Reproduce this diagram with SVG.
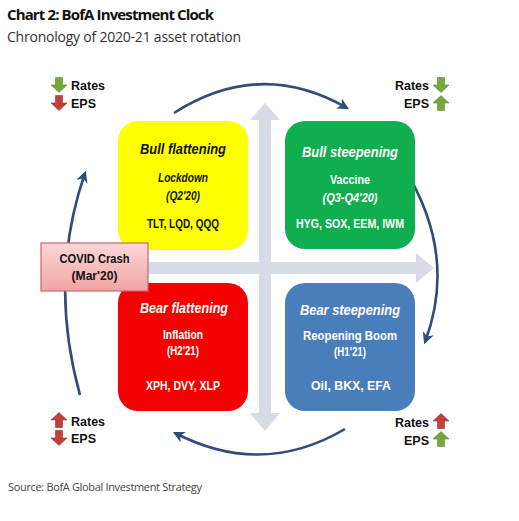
<svg xmlns="http://www.w3.org/2000/svg" width="519" height="521" viewBox="0 0 519 521">
<defs>
<style>
text{font-family:"Liberation Sans",Arial,sans-serif;}
.ttl{font-family:"Open Sans","Liberation Sans",sans-serif;}
.h{font-size:15px;font-weight:bold;font-style:italic;text-anchor:middle;}
.s{font-size:12px;font-weight:bold;text-anchor:middle;}
.t{font-size:13px;font-weight:bold;text-anchor:middle;}
.w{fill:#ffffff;}
.k{fill:#111111;}
.lbl{font-size:12.5px;font-weight:bold;fill:#111;}
.arc{fill:none;stroke:#2e4d7b;stroke-width:2.6;}
.axis{fill:#d6dbe6;}
.gr{fill:#72a83c;stroke:#5a8c2c;stroke-width:0.6;}
.rd{fill:#c0403e;stroke:#a02f2e;stroke-width:0.6;}
</style>
<marker id="ah" viewBox="0 0 10 10" refX="8" refY="5" markerWidth="4.5" markerHeight="4.5" orient="auto">
<path d="M0,0 L10,5 L0,10 L3,5 Z" fill="#2e4d7b"/>
</marker>
<linearGradient id="pink" x1="0" y1="0" x2="0" y2="1">
<stop offset="0" stop-color="#fbd7d7"/>
<stop offset="1" stop-color="#f3a4a4"/>
</linearGradient>
<path id="up" d="M0,-7.5 L8,0 L3.5,0 L3.5,7.5 L-3.5,7.5 L-3.5,0 L-8,0 Z"/>
<path id="dn" d="M0,7.5 L8,0 L3.5,0 L3.5,-7.5 L-3.5,-7.5 L-3.5,0 L-8,0 Z"/>
</defs>
<rect width="519" height="521" fill="#ffffff"/>
<text class="ttl" x="7" y="20" font-size="15" font-weight="bold" fill="#111" textLength="207">Chart 2: BofA Investment Clock</text>
<text class="ttl" x="7" y="42" font-size="14" fill="#333" textLength="234">Chronology of 2020-21 asset rotation</text>

<g id="axes">
<rect class="axis" x="259" y="118" width="12" height="296"/>
<path class="axis" d="M265,103 L280,120 L250,120 Z"/>
<path class="axis" d="M265,431 L280,413 L250,413 Z"/>
<rect class="axis" x="72" y="262" width="345" height="12"/>
<path class="axis" d="M434,268 L416,253 L416,283 Z"/>
</g>

<g id="connectors">
<path class="arc" d="M174,113 Q260,58 347,108" marker-end="url(#ah)"/>
<path class="arc" d="M404,168 Q458,255 425,342" marker-end="url(#ah)"/>
<path class="arc" d="M345,429 Q262,478 175,433" marker-end="url(#ah)"/>
<path class="arc" d="M80,395 Q48,280 85,173" marker-end="url(#ah)"/>
</g>

<g id="bull-flattening">
<rect x="118" y="121" width="130" height="129" rx="20" fill="#ffff00"/>
<text class="h k" x="183" y="154" textLength="86" lengthAdjust="spacingAndGlyphs">Bull flattening</text>
<text class="s k" x="183" y="182" font-style="italic" textLength="50" lengthAdjust="spacingAndGlyphs">Lockdown</text>
<text class="s k" x="183" y="200" font-style="italic" textLength="34" lengthAdjust="spacingAndGlyphs">(Q2'20)</text>
<text class="t k" x="183" y="228" textLength="72" lengthAdjust="spacingAndGlyphs">TLT, LQD, QQQ</text>
</g>

<g id="bull-steepening">
<rect x="285" y="121" width="130" height="128" rx="20" fill="#0fae4e"/>
<text class="h w" x="350" y="157" textLength="96" lengthAdjust="spacingAndGlyphs">Bull steepening</text>
<text class="s w" x="350" y="184" textLength="40" lengthAdjust="spacingAndGlyphs">Vaccine</text>
<text class="s w" x="350" y="202" font-style="italic" textLength="55" lengthAdjust="spacingAndGlyphs">(Q3-Q4'20)</text>
<text class="t w" x="350" y="228" textLength="108" lengthAdjust="spacingAndGlyphs">HYG, SOX, EEM, IWM</text>
</g>

<g id="bear-flattening">
<rect x="118" y="283" width="130" height="128" rx="20" fill="#f50000"/>
<text class="h w" x="184" y="313" textLength="88" lengthAdjust="spacingAndGlyphs">Bear flattening</text>
<text class="s w" x="183" y="339" textLength="40" lengthAdjust="spacingAndGlyphs">Inflation</text>
<text class="s w" x="183" y="355" textLength="32" lengthAdjust="spacingAndGlyphs">(H2'21)</text>
<text class="t w" x="183" y="390" textLength="74" lengthAdjust="spacingAndGlyphs">XPH, DVY, XLP</text>
</g>

<g id="bear-steepening">
<rect x="285" y="283" width="130" height="128" rx="20" fill="#4a7ebb"/>
<text class="h w" x="350" y="315" textLength="100" lengthAdjust="spacingAndGlyphs">Bear steepening</text>
<text class="s w" x="350" y="340" textLength="94" lengthAdjust="spacingAndGlyphs">Reopening Boom</text>
<text class="s w" x="350" y="356" textLength="32" lengthAdjust="spacingAndGlyphs">(H1'21)</text>
<text class="t w" x="351" y="390" textLength="80" lengthAdjust="spacingAndGlyphs">Oil, BKX, EFA</text>
</g>

<g id="covid-crash">
<rect x="41" y="243" width="107" height="48" fill="url(#pink)" stroke="#c46a6a" stroke-width="1.2"/>
<text class="s k" x="94.5" y="263" font-size="12.5" textLength="70" lengthAdjust="spacingAndGlyphs">COVID Crash</text>
<text class="s k" x="94.5" y="280" font-size="12.5" textLength="46" lengthAdjust="spacingAndGlyphs">(Mar'20)</text>
</g>

<g id="legend-tl">
<use href="#dn" x="59" y="85" class="gr"/>
<text class="lbl" x="71" y="90">Rates</text>
<use href="#dn" x="59" y="103" class="rd"/>
<text class="lbl" x="71" y="108">EPS</text>
</g>
<g id="legend-tr">
<use href="#dn" x="441" y="85" class="gr"/>
<text class="lbl" x="429" y="90" text-anchor="end">Rates</text>
<use href="#up" x="441" y="103" class="gr"/>
<text class="lbl" x="429" y="108" text-anchor="end">EPS</text>
</g>
<g id="legend-bl">
<use href="#up" x="59" y="420" class="rd"/>
<text class="lbl" x="71" y="426">Rates</text>
<use href="#dn" x="59" y="438" class="rd"/>
<text class="lbl" x="71" y="443">EPS</text>
</g>
<g id="legend-br">
<use href="#up" x="441" y="421" class="rd"/>
<text class="lbl" x="429" y="427" text-anchor="end">Rates</text>
<use href="#up" x="441" y="439" class="gr"/>
<text class="lbl" x="429" y="445" text-anchor="end">EPS</text>
</g>

<text class="ttl" x="8" y="491" font-size="11" fill="#444" textLength="194">Source: BofA Global Investment Strategy</text>
</svg>
